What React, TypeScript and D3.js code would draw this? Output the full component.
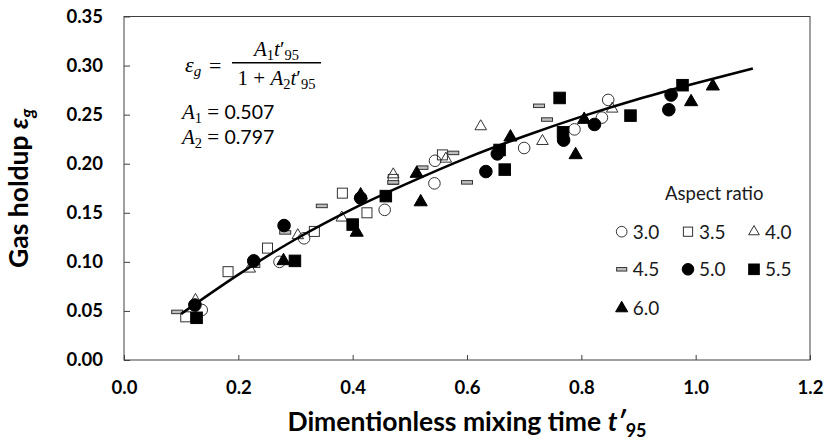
import { useRef, useEffect } from "react";
import * as d3 from "d3";

// Aspect ratio series, [t'95, eps_g]
const ar30 = [
  [0.136, 0.051], [0.272, 0.1], [0.315, 0.124], [0.456, 0.153], [0.543, 0.18],
  [0.544, 0.203], [0.7, 0.216], [0.788, 0.235], [0.836, 0.247], [0.847, 0.265],
];
const ar35 = [
  [0.108, 0.044], [0.182, 0.09], [0.251, 0.114], [0.333, 0.131], [0.382, 0.17],
  [0.425, 0.15], [0.471, 0.184], [0.557, 0.209],
];
const ar40 = [
  [0.125, 0.061], [0.22, 0.093], [0.304, 0.127], [0.381, 0.145], [0.471, 0.189],
  [0.563, 0.205], [0.624, 0.238], [0.732, 0.223], [0.854, 0.256],
];
const ar45 = [
  [0.093, 0.049], [0.228, 0.096], [0.282, 0.13], [0.346, 0.157], [0.471, 0.181],
  [0.522, 0.196], [0.576, 0.211], [0.6, 0.181], [0.726, 0.259], [0.74, 0.245],
];
const ar50 = [
  [0.124, 0.056], [0.227, 0.101], [0.28, 0.137], [0.414, 0.165], [0.633, 0.192],
  [0.653, 0.21], [0.769, 0.224], [0.823, 0.24], [0.953, 0.255], [0.957, 0.27],
];
const ar55 = [
  [0.127, 0.043], [0.299, 0.101], [0.4, 0.138], [0.458, 0.167], [0.657, 0.214],
  [0.666, 0.194], [0.762, 0.267], [0.768, 0.232], [0.886, 0.249], [0.977, 0.28],
];
const ar60 = [
  [0.279, 0.101], [0.407, 0.13], [0.414, 0.168], [0.512, 0.19], [0.519, 0.161],
  [0.676, 0.227], [0.79, 0.209], [0.805, 0.245], [0.992, 0.263], [1.03, 0.279],
];

// fitted curve, sampled along the drawn line
const fitT = [0.1, 0.2, 0.3, 0.4, 0.5, 0.6, 0.7, 0.8, 0.9, 1.0, 1.1];
const fitEps = [0.047, 0.087, 0.123, 0.154, 0.181, 0.206, 0.228, 0.248, 0.266, 0.282, 0.297];

const legendLabels = ["3.0", "3.5", "4.0", "4.5", "5.0", "5.5", "6.0"];
const xTicks = [0, 0.2, 0.4, 0.6, 0.8, 1.0, 1.2];
const yTicks = [0, 0.05, 0.1, 0.15, 0.2, 0.25, 0.3, 0.35];

type Shape = "circle" | "square" | "triangle" | "bar";

const App = () => {
  const chartRef = useRef<SVGSVGElement | null>(null);

  useEffect(() => {
    if (chartRef.current === null) return;

    const width = 826;
    const height = 441;
    const margin = { top: 16.5, right: 16, bottom: 81, left: 124 };

    const svg = d3.select(chartRef.current);
    svg.selectAll("*").remove();
    svg.attr("width", width).attr("height", height);

    const xScale = d3
      .scaleLinear()
      .domain([0, 1.2])
      .range([margin.left, width - margin.right]);
    const yScale = d3
      .scaleLinear()
      .domain([0, 0.35])
      .range([height - margin.bottom, margin.top]);

    const sans = "Lato, 'Open Sans', sans-serif";
    const serif = "'Liberation Serif', 'DejaVu Serif', serif";
    const axisColor = "#404040";

    // y axis, ticks inside
    const yAxis = svg
      .append("g")
      .attr("transform", `translate(${margin.left},0)`)
      .call(
        d3
          .axisLeft(yScale)
          .tickValues(yTicks)
          .tickFormat(d3.format(".2f"))
          .tickSize(-6)
          .tickPadding(21)
      );
    yAxis.select(".domain").remove();

    const xAxis = svg
      .append("g")
      .attr("transform", `translate(0,${height - margin.bottom})`)
      .call(
        d3
          .axisBottom(xScale)
          .tickValues(xTicks)
          .tickFormat(d3.format(".1f"))
          .tickSize(-5)
          .tickPadding(21)
      );
    xAxis.select(".domain").remove();

    [xAxis, yAxis].forEach((ax) => {
      ax.selectAll("line").attr("stroke", axisColor);
      ax.selectAll("text")
        .attr("font-family", sans)
        .attr("font-weight", "bold")
        .attr("font-size", 18.5)
        .attr("fill", "#000");
    });

    // plot frame
    svg
      .append("rect")
      .attr("x", margin.left)
      .attr("y", margin.top)
      .attr("width", width - margin.left - margin.right)
      .attr("height", height - margin.top - margin.bottom)
      .attr("fill", "none")
      .attr("stroke", axisColor)
      .attr("stroke-width", 1);

    // marker drawing
    const drawMarker = (
      g: d3.Selection<SVGGElement, unknown, null, undefined>,
      cx: number,
      cy: number,
      shape: Shape,
      filled: boolean,
      scale = 1
    ) => {
      const fill = filled ? "#000" : "none";
      const stroke = filled ? "#000" : "#333";
      if (shape === "circle") {
        g.append("circle")
          .attr("cx", cx)
          .attr("cy", cy)
          .attr("r", (filled ? 6.3 : 5.8) * scale)
          .attr("fill", fill)
          .attr("stroke", stroke)
          .attr("stroke-width", 1);
      } else if (shape === "square") {
        const s = (filled ? 11.5 : 10) * scale;
        g.append("rect")
          .attr("x", cx - s / 2)
          .attr("y", cy - s / 2)
          .attr("width", s)
          .attr("height", s)
          .attr("fill", fill)
          .attr("stroke", stroke)
          .attr("stroke-width", 1);
      } else if (shape === "triangle") {
        const size = (filled ? 75 : 58) * scale * scale;
        g.append("path")
          .attr("d", d3.symbol().type(d3.symbolTriangle).size(size)())
          .attr("transform", `translate(${cx},${cy})`)
          .attr("fill", fill)
          .attr("stroke", stroke)
          .attr("stroke-width", 1);
      } else {
        const w = 11 * scale;
        const h = 3.5;
        g.append("rect")
          .attr("x", cx - w / 2)
          .attr("y", cy - h / 2)
          .attr("width", w)
          .attr("height", h)
          .attr("fill", "#bfbfbf")
          .attr("stroke", "#333")
          .attr("stroke-width", 1);
      }
    };

    const series: { data: number[][]; shape: Shape; filled: boolean }[] = [
      { data: ar30, shape: "circle", filled: false },
      { data: ar35, shape: "square", filled: false },
      { data: ar40, shape: "triangle", filled: false },
      { data: ar45, shape: "bar", filled: false },
      { data: ar50, shape: "circle", filled: true },
      { data: ar55, shape: "square", filled: true },
      { data: ar60, shape: "triangle", filled: true },
    ];

    const points = svg.append("g").attr("class", "points");
    series.forEach((s) => {
      const g = points.append("g");
      s.data.forEach(([t, e]) =>
        drawMarker(g, xScale(t), yScale(e), s.shape, s.filled)
      );
    });

    // fitted curve
    const line = d3
      .line<number>()
      .x((d) => xScale(d))
      .y((_, i) => yScale(fitEps[i]))
      .curve(d3.curveMonotoneX);
    svg
      .append("path")
      .attr("d", line(fitT))
      .attr("fill", "none")
      .attr("stroke", "#000")
      .attr("stroke-width", 2.5);

    // legend
    const legend = svg.append("g").attr("class", "legend");
    legend
      .append("text")
      .attr("x", 665)
      .attr("y", 200)
      .attr("font-family", sans)
      .attr("font-size", 18.5)
      .attr("fill", "#1a1a1a")
      .text("Aspect ratio");
    const colX = [621.7, 688, 754];
    const rowY = [231.7, 269.3, 308.3];
    series.forEach((s, i) => {
      const cx = colX[i % 3];
      const cy = rowY[Math.floor(i / 3)];
      const g = legend.append("g");
      drawMarker(g, cx, cy, s.shape, s.filled, 0.92);
      g.append("text")
        .attr("x", cx + 11)
        .attr("y", cy + 6.8)
        .attr("font-family", sans)
        .attr("font-size", 19)
        .attr("fill", "#1a1a1a")
        .text(legendLabels[i]);
    });

    // equation annotation
    const eq = svg.append("g").attr("font-family", serif).attr("fill", "#000");
    const epsText = eq.append("text").attr("x", 185).attr("y", 72).attr("font-size", 22);
    epsText.append("tspan").attr("font-style", "italic").text("ε");
    epsText.append("tspan").attr("font-style", "italic").attr("font-size", 15).attr("dy", 4).text("g");
    eq.append("text").attr("x", 209).attr("y", 73).attr("font-size", 22).text("=");

    const num = eq.append("text").attr("x", 276.5).attr("y", 56).attr("font-size", 21).attr("text-anchor", "middle");
    num.append("tspan").attr("font-style", "italic").text("A");
    num.append("tspan").attr("font-size", 14.5).attr("dy", 4).text("1");
    num.append("tspan").attr("font-style", "italic").attr("dy", -4).text("t");
    num.append("tspan").text("′");
    num.append("tspan").attr("font-size", 14.5).attr("dy", 4).text("95");

    eq.append("line")
      .attr("x1", 232)
      .attr("x2", 321)
      .attr("y1", 62.7)
      .attr("y2", 62.7)
      .attr("stroke", "#000")
      .attr("stroke-width", 1.4);

    const den = eq.append("text").attr("x", 276.5).attr("y", 85).attr("font-size", 21).attr("text-anchor", "middle");
    den.append("tspan").text("1 + ");
    den.append("tspan").attr("font-style", "italic").text("A");
    den.append("tspan").attr("font-size", 14.5).attr("dy", 4).text("2");
    den.append("tspan").attr("font-style", "italic").attr("dy", -4).text("t");
    den.append("tspan").text("′");
    den.append("tspan").attr("font-size", 14.5).attr("dy", 4).text("95");

    const coef = [
      { sub: "1", val: "0.507", y: 119 },
      { sub: "2", val: "0.797", y: 144 },
    ];
    coef.forEach((c) => {
      const t = eq.append("text").attr("x", 182).attr("y", c.y).attr("font-size", 21);
      t.append("tspan").attr("font-style", "italic").text("A");
      t.append("tspan").attr("font-size", 14.5).attr("dy", 4).text(c.sub);
      t.append("tspan").attr("dy", -4).text(" = ");
      t.append("tspan").attr("font-family", sans).attr("font-size", 19.5).text(c.val);
    });

    // axis titles
    const xTitle = svg
      .append("text")
      .attr("x", (margin.left + width - margin.right) / 2)
      .attr("y", 431)
      .attr("text-anchor", "middle")
      .attr("font-family", sans)
      .attr("font-weight", "bold")
      .attr("font-size", 26.5)
      .attr("fill", "#000");
    xTitle.append("tspan").text("Dimentionless mixing time ");
    xTitle.append("tspan").attr("font-style", "italic").text("t′");
    xTitle.append("tspan").attr("font-size", 18).attr("dy", 6).text("95");

    const yTitle = svg
      .append("text")
      .attr("transform", `translate(28,${(margin.top + height - margin.bottom) / 2}) rotate(-90)`)
      .attr("text-anchor", "middle")
      .attr("font-family", sans)
      .attr("font-weight", "bold")
      .attr("font-size", 26.5)
      .attr("fill", "#000");
    yTitle.append("tspan").text("Gas holdup ");
    yTitle.append("tspan").attr("font-style", "italic").text("ε");
    yTitle.append("tspan").attr("font-style", "italic").attr("font-size", 18).attr("dy", 6).text("g");
  }, []);

  return (
    <svg
      ref={chartRef}
      style={{ position: "absolute", left: 0, top: 0, display: "block", background: "#fff" }}
    />
  );
};

export default App;
